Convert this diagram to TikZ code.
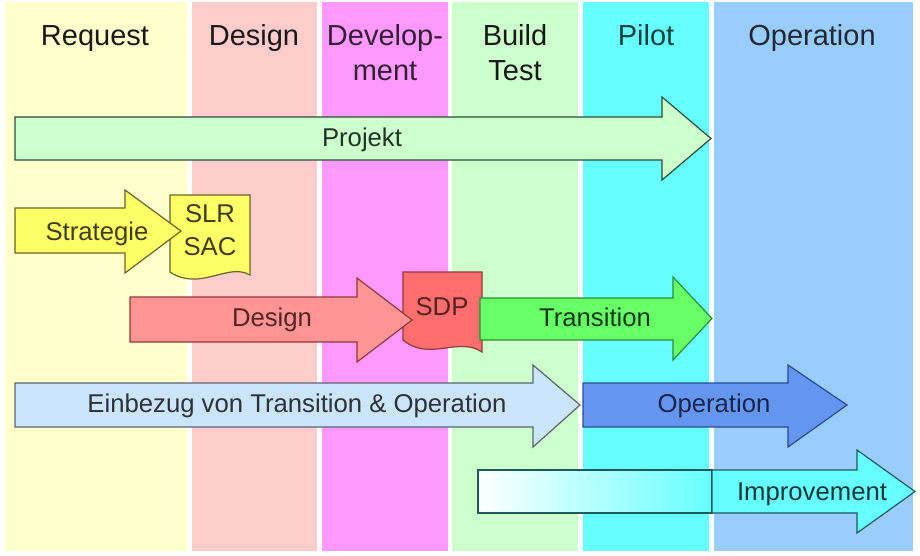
\documentclass[tikz,border=0pt]{standalone}
\usepackage{fontspec}
\setmainfont{Liberation Sans}
\usepackage{xcolor}
\definecolor{reqCol}{HTML}{FFFFCC}
\definecolor{desCol}{HTML}{FFCCCC}
\definecolor{devCol}{HTML}{FF99FF}
\definecolor{buildCol}{HTML}{CCFFCC}
\definecolor{pilotCol}{HTML}{66FFFF}
\definecolor{operCol}{HTML}{99CCFF}
\definecolor{projFill}{HTML}{CCFFCC}
\definecolor{projBorder}{HTML}{2F4A3A}
\definecolor{stratFill}{HTML}{FFFF66}
\definecolor{stratBorder}{HTML}{66662A}
\definecolor{designFill}{HTML}{FF9494}
\definecolor{designBorder}{HTML}{8C3A3A}
\definecolor{sdpFill}{HTML}{FF6E6E}
\definecolor{transFill}{HTML}{66FF66}
\definecolor{transBorder}{HTML}{2E8B3A}
\definecolor{einFill}{HTML}{CCE5FF}
\definecolor{einBorder}{HTML}{5A6470}
\definecolor{opFill}{HTML}{6496F0}
\definecolor{opBorder}{HTML}{2A4A9A}
\definecolor{impFill}{HTML}{66FFFF}
\definecolor{impBorder}{HTML}{1F5A5A}

\begin{document}
\begin{tikzpicture}[
  x=1pt, y=-1pt,
  header/.style={font=\fontsize{29}{35}\selectfont, align=center, anchor=base, inner sep=0pt},
  phase/.style={line width=1.2pt, line join=miter},
  lbl/.style={font=\fontsize{25.7}{33}\selectfont, text height=18.4pt, text depth=0pt, inner sep=0pt},
  doc/.style={line width=1.2pt}
]
  \useasboundingbox [fill=white] (0,0) rectangle (920,555);

  % Columns
  \foreach \x/\w/\c in {5/182/reqCol, 192/125/desCol, 322/126/devCol, 452/126/buildCol, 583/126/pilotCol, 714/199/operCol}
    \fill [\c] (\x,2) rectangle ++(\w,549);

  % Headers (base is the last line)
  \foreach \n/\x/\y/\tc/\t in {hReq/95/45/black!90/Request, hDes/254/45/black!90/Design, hDev/385/80/devCol!20!black/{Develop-\\ment}, hBuild/515/80/black!90/{Build\\Test}, hPilot/646/45/pilotCol!25!black/Pilot, hOper/812/45/operCol!20!black/Operation}
    \node (\n) [header, text=\tc] at (\x,\y) {\t};

  % Documents
  \draw [doc, fill=stratFill, draw=stratBorder] (170,195) -- (250,195) -- (250,275)
    .. controls (228,262) and (200,292) .. (170,272) -- cycle;
  \node (slr) [font=\fontsize{25.7}{33}\selectfont, align=center, inner sep=0pt, text=stratBorder!60!black] at (210,230) {SLR\\SAC};
  \draw [doc, fill=sdpFill, draw=designBorder] (403,272) -- (482,272) -- (482,352)
    .. controls (458,336) and (430,362) .. (403,340) -- cycle;
  \node (sdp) [lbl, text=designBorder!60!black] at (442,306) {SDP};

  % Phase arrows
  \draw [phase, fill=projFill, draw=projBorder] (15,117) -- (662,117) -- (662,97) -- (711,138.5) -- (662,180) -- (662,160) -- (15,160) -- cycle;
  \node (projekt) [lbl, text=projBorder!70!black] at (362,137.5) {Projekt};

  \draw [phase, fill=stratFill, draw=stratBorder] (15,208) -- (125,208) -- (125,190) -- (181,231) -- (125,273) -- (125,253) -- (15,253) -- cycle;
  \node (strategie) [lbl, text=stratBorder!60!black] at (97,231) {Strategie};

  \draw [phase, fill=designFill, draw=designBorder] (130,297) -- (357,297) -- (357,278) -- (412,320) -- (357,362) -- (357,342) -- (130,342) -- cycle;
  \node (design) [lbl, text=designBorder!60!black] at (272,317.5) {Design};

  \draw [phase, fill=transFill, draw=transBorder] (480,298) -- (673,298) -- (673,277) -- (712,318.5) -- (673,360) -- (673,340) -- (480,340) -- cycle;
  \node (transition) [lbl, text=transBorder!40!black] at (595,317) {Transition};

  \draw [phase, fill=einFill, draw=einBorder] (15,383) -- (533,383) -- (533,365) -- (580,405) -- (533,447) -- (533,427) -- (15,427) -- cycle;
  \node (einbezug) [lbl, text=einBorder!50!black] at (297,403.5) {Einbezug von Transition \& Operation};

  \draw [phase, fill=opFill, draw=opBorder] (583,383) -- (788,383) -- (788,365) -- (847,405) -- (788,447) -- (788,427) -- (583,427) -- cycle;
  \node (operation) [lbl, text=opBorder!50!black] at (714,403) {Operation};

  \draw [phase, left color=white, right color=impFill, draw=impBorder] (478,470) rectangle (712,513);
  \draw [phase, fill=impFill, draw=impBorder] (712,470) -- (857,470) -- (857,450) -- (915,491.5) -- (857,533) -- (857,513) -- (712,513) -- cycle;
  \node (improvement) [lbl, text=impBorder!60!black] at (812,491) {Improvement};
\end{tikzpicture}
\end{document}
